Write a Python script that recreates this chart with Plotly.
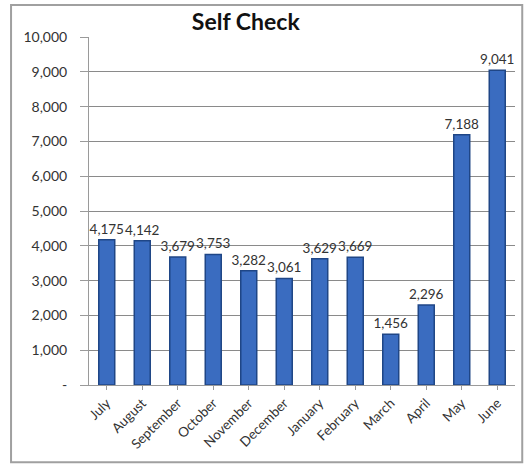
import plotly.graph_objects as go

months = ["July", "August", "September", "October", "November", "December",
          "January", "February", "March", "April", "May", "June"]
values = [4175, 4142, 3679, 3753, 3282, 3061, 3629, 3669, 1456, 2296, 7188, 9041]
tick_vals = [0, 1000, 2000, 3000, 4000, 5000, 6000, 7000, 8000, 9000, 10000]
tick_text = ["-", "1,000", "2,000", "3,000", "4,000", "5,000", "6,000",
             "7,000", "8,000", "9,000", "10,000"]
title_text = "Self Check"

fig = go.Figure()
fig.add_trace(go.Bar(
    x=months, y=values,
    marker=dict(color="#3a6cc0", line=dict(color="#1f4686", width=1.5)),
    text=[f"{v:,}" for v in values],
    textposition="outside",
    constraintext="none",
    textfont=dict(family="Lato, Open Sans, sans-serif", size=13.5, color="#333333"),
    cliponaxis=False,
))

fig.update_layout(
    width=532, height=468,
    margin=dict(l=89, r=17, t=37, b=83),
    paper_bgcolor="white", plot_bgcolor="white",
    bargap=0.55,
    showlegend=False,
    title=dict(text="<b>" + title_text + "</b>", x=0.462, xanchor="center",
               y=0.953, yanchor="middle",
               font=dict(family="Lato, Open Sans, sans-serif", size=23, color="#111111")),
    font=dict(family="Lato, Open Sans, sans-serif", size=13, color="#333333"),
    xaxis=dict(tickangle=-45, showline=True, linecolor="#9a9a9a", linewidth=1,
               ticks="outside", ticklen=4, tickcolor="#9a9a9a",
               tickfont=dict(size=13.5, color="#333333")),
    yaxis=dict(range=[0, 10000], tickvals=tick_vals, ticktext=tick_text,
               showgrid=True, gridcolor="#8a8a8a", gridwidth=1,
               showline=True, linecolor="#9a9a9a", linewidth=1,
               ticks="outside", ticklen=8, tickcolor="#9a9a9a",
               ticklabelstandoff=10,
               tickfont=dict(size=14, color="#333333"), zeroline=False),
    shapes=[dict(type="rect", xref="paper", yref="paper",
                 x0=-0.183, x1=1.017, y0=-0.222, y1=1.092,
                 line=dict(color="#a0a0a0", width=2), fillcolor="rgba(0,0,0,0)",
                 layer="below")],
)

fig.write_html("out.html", config={"displayModeBar": False},
               post_script="document.body.style.margin='0px';")
